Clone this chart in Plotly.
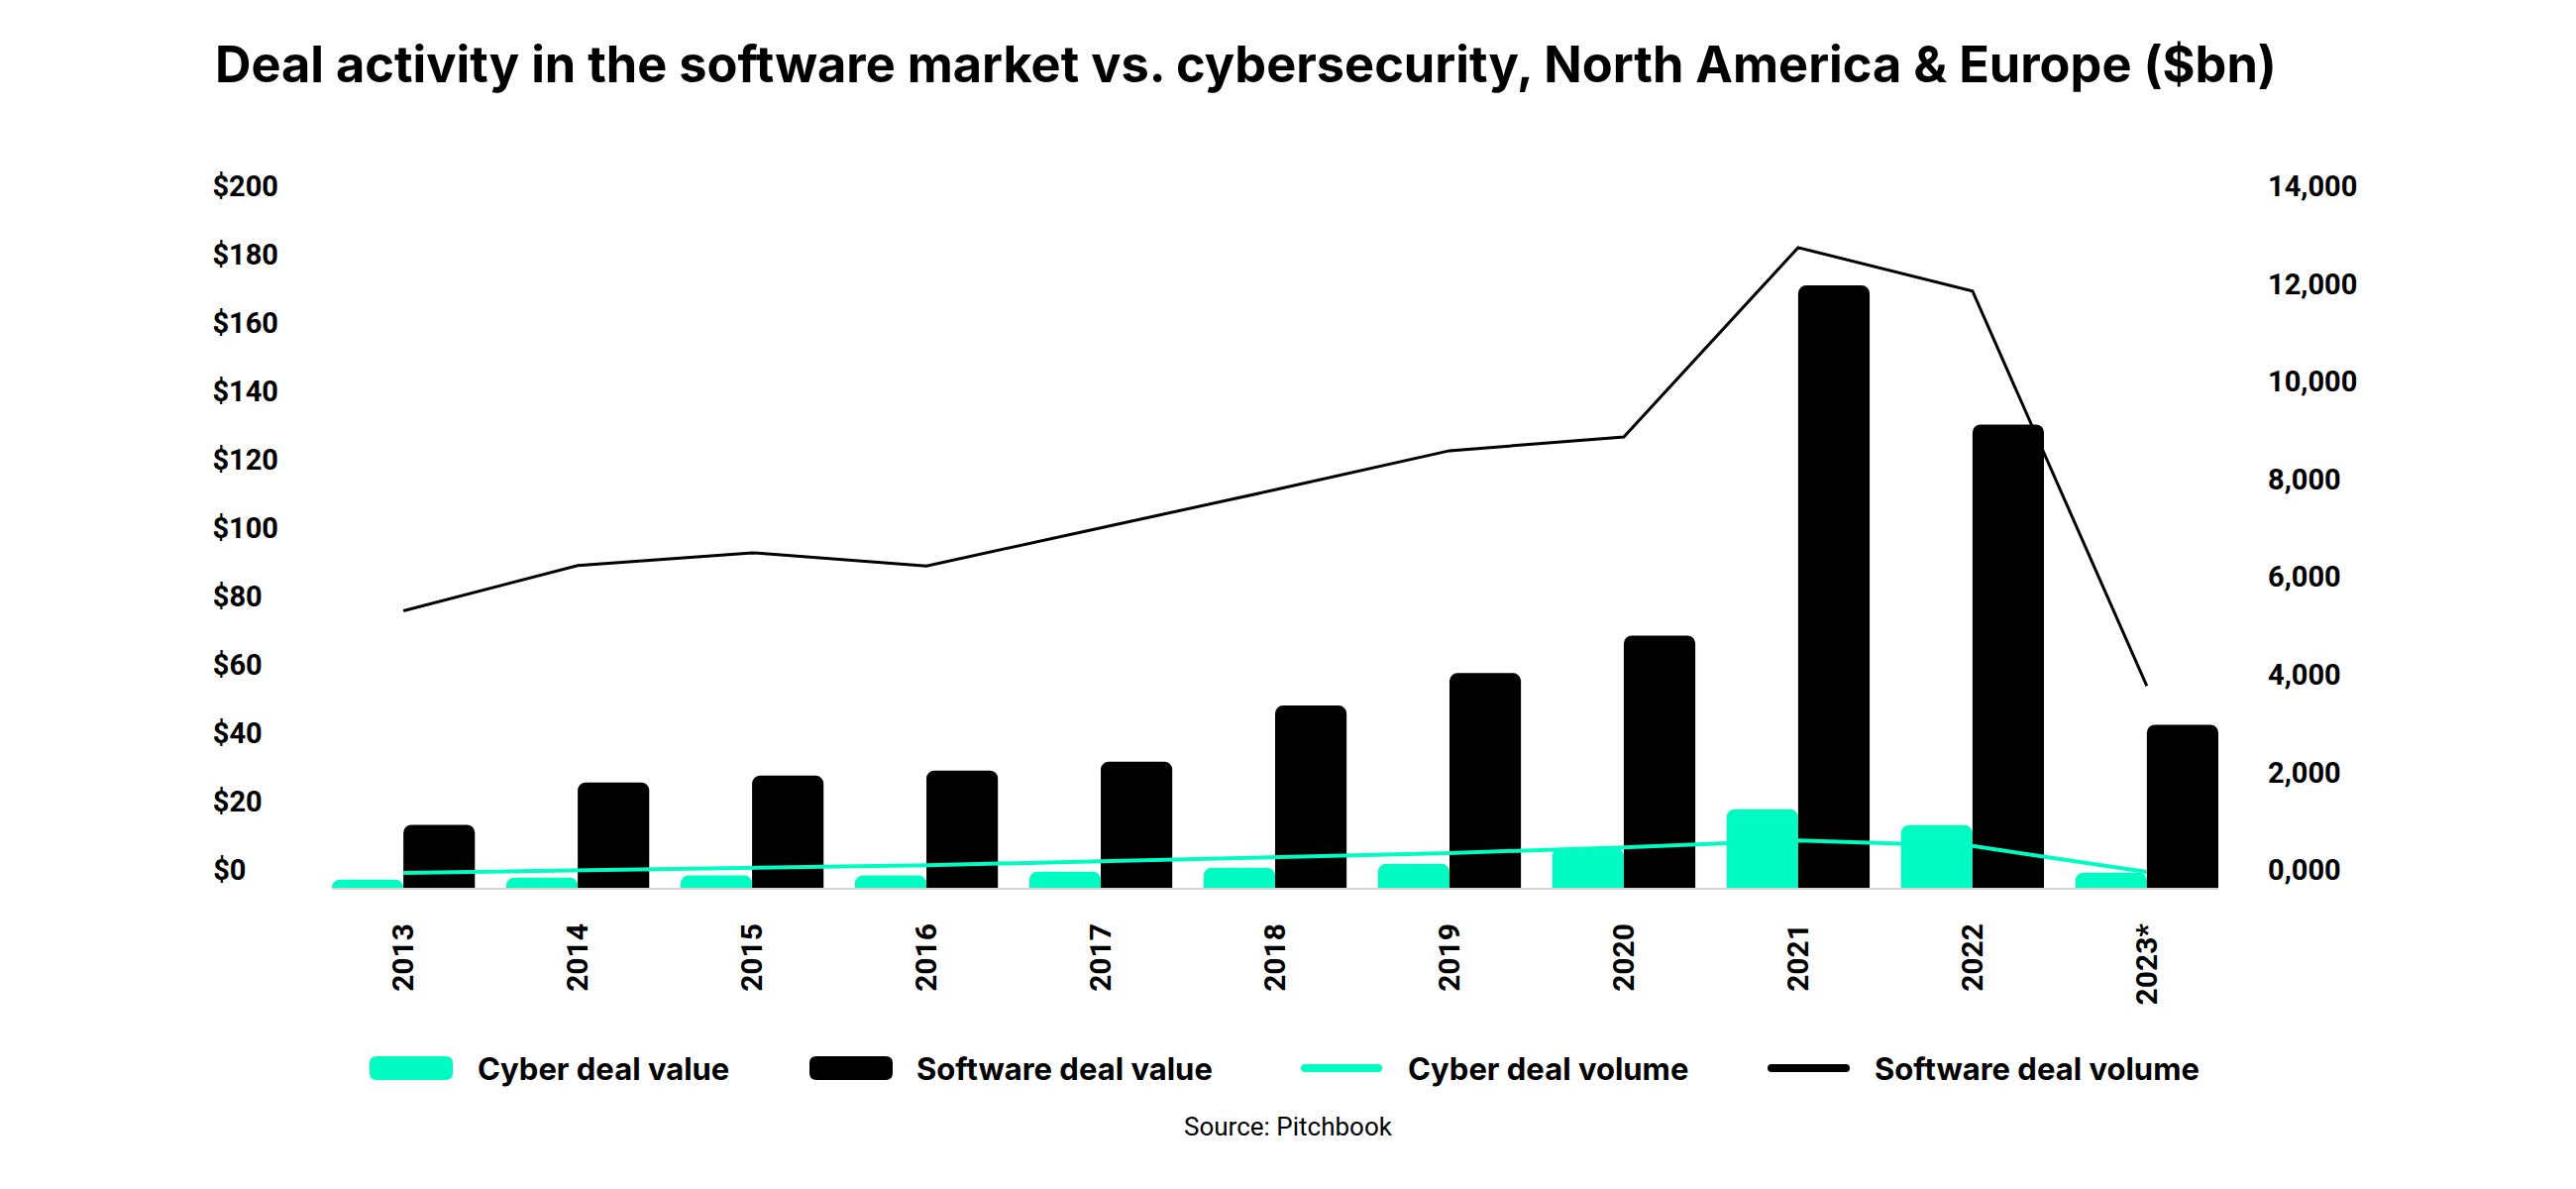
import plotly.graph_objects as go

# data
years = ["2013", "2014", "2015", "2016", "2017", "2018", "2019", "2020", "2021", "2022", "2023*"]
cyber_value = [2.4, 3.0, 3.6, 3.6, 4.7, 5.9, 7.0, 11.6, 23.0, 18.3, 4.4]
software_value = [18.4, 30.8, 32.8, 34.3, 36.9, 53.3, 62.8, 73.8, 176.2, 135.5, 47.7]
cyber_volume = [305, 360, 407, 462, 543, 630, 712, 828, 970, 855, 326]
software_volume = [5670, 6600, 6860, 6590, 7370, 8150, 8950, 9230, 13110, 12220, 4130]

left_ticks = [0, 20, 40, 60, 80, 100, 120, 140, 160, 180, 200]
right_ticks = [0, 2000, 4000, 6000, 8000, 10000, 12000, 14000]
right_labels = ["0,000", "2,000", "4,000", "6,000", "8,000", "10,000", "12,000", "14,000"]
legend_names = ["Cyber deal value", "Software deal value", "Cyber deal volume", "Software deal volume"]

GREEN = "#00FCC3"
BLACK = "#000000"
FONT = "Roboto"
WIDE = "Inter"

W, H = 2600, 1200
OFF = 8  # page body margin, figure sits 8px in from the corner
L, T = 335 - OFF, 206 - OFF
R, B = W - (2239 - OFF), H - (896 - OFF)
PW, PH = W - L - R, H - T - B


def px_x(x):
    return (x - OFF - L) / PW


def px_y(y):
    return (H - B - (y - OFF)) / PH


def rounded(w, h, r):
    a, b = w / 2, h / 2
    return (f"M{-a + r},{-b} L{a - r},{-b} Q{a},{-b} {a},{-b + r} L{a},{b - r} "
            f"Q{a},{b} {a - r},{b} L{-a + r},{b} Q{-a},{b} {-a},{b - r} "
            f"L{-a},{-b + r} Q{-a},{-b} {-a + r},{-b} Z")


# left labels padded with figure spaces so they line up on the left
left_labels = []
for v in left_ticks:
    s = f"${v}"
    left_labels.append(s + "\u2007" * (4 - len(s)))

fig = go.Figure()
fig.add_trace(go.Bar(x=years, y=cyber_value, name=legend_names[0],
                     marker=dict(color=GREEN, cornerradius=8, line=dict(width=0))))
fig.add_trace(go.Bar(x=years, y=software_value, name=legend_names[1],
                     marker=dict(color=BLACK, cornerradius=8, line=dict(width=0))))
fig.add_trace(go.Scatter(x=years, y=cyber_volume, name=legend_names[2], mode="lines",
                         line=dict(color=GREEN, width=4), yaxis="y2"))
fig.add_trace(go.Scatter(x=years, y=software_volume, name=legend_names[3], mode="lines",
                         line=dict(color=BLACK, width=3), yaxis="y2"))

# hand-built legend (rounded swatches + labels)
swatches = [
    (415, 84, 24, 7, GREEN),
    (859, 84, 24, 7, BLACK),
    (1354, 82, 8, 4, GREEN),
    (1825.5, 83, 8, 4, BLACK),
]
text_left = [480, 923, 1419, 1890]
leg_y = 1078
shapes = []
annotations = []
for (cx, w, h, r, col), tx, name in zip(swatches, text_left, legend_names):
    shapes.append(dict(type="path", xref="paper", yref="paper",
                       xsizemode="pixel", ysizemode="pixel",
                       xanchor=px_x(cx), yanchor=px_y(leg_y),
                       path=rounded(w, h, r), fillcolor=col, line=dict(width=0)))
    annotations.append(dict(text=name, xref="paper", yref="paper",
                            x=px_x(tx), y=px_y(leg_y), xanchor="left", yanchor="middle",
                            showarrow=False,
                            font=dict(family=WIDE, size=31, color=BLACK, weight=700)))

annotations.append(dict(text="Source: Pitchbook", xref="paper", yref="paper",
                        x=px_x(1300), y=px_y(1137), xanchor="center", yanchor="middle",
                        showarrow=False, font=dict(family=FONT, size=26, color=BLACK)))

fig.update_layout(
    width=W, height=H, autosize=False,
    margin=dict(l=L, r=R, t=T, b=B),
    paper_bgcolor="white", plot_bgcolor="white",
    barmode="group", bargap=0.18, bargroupgap=0,
    showlegend=False,
    title=dict(text="Deal activity in the software market vs. cybersecurity, North America & Europe ($bn)",
               x=(217 - OFF) / W, xanchor="left", xref="container",
               y=1 - (65 - OFF) / H, yanchor="middle", yref="container",
               font=dict(family=WIDE, size=50.5, color=BLACK, weight=700)),
    xaxis=dict(type="category", range=[-0.41, 10.41], tickangle=-90,
               showgrid=False, zeroline=False, ticks="",
               showline=True, linecolor="#d4d4d4", linewidth=2, layer="below traces",
               ticklabelstandoff=22, automargin=False,
               tickfont=dict(family=FONT, size=30, color=BLACK, weight=700)),
    yaxis=dict(range=[0, 200], tickvals=left_ticks, ticktext=left_labels,
               showgrid=False, zeroline=False, showline=False, ticks="",
               ticklabelshift=-18, ticklabelstandoff=53, automargin=False,
               tickfont=dict(family=FONT, size=29, color=BLACK, weight=700)),
    yaxis2=dict(range=[0, 14000], tickvals=right_ticks, ticktext=right_labels,
                overlaying="y", side="right",
                showgrid=False, zeroline=False, showline=False, ticks="",
                ticklabelshift=-18, ticklabelstandoff=49, automargin=False,
                tickfont=dict(family=FONT, size=29, color=BLACK, weight=700)),
    shapes=shapes,
    annotations=annotations,
)

fig.write_html("out.html")
